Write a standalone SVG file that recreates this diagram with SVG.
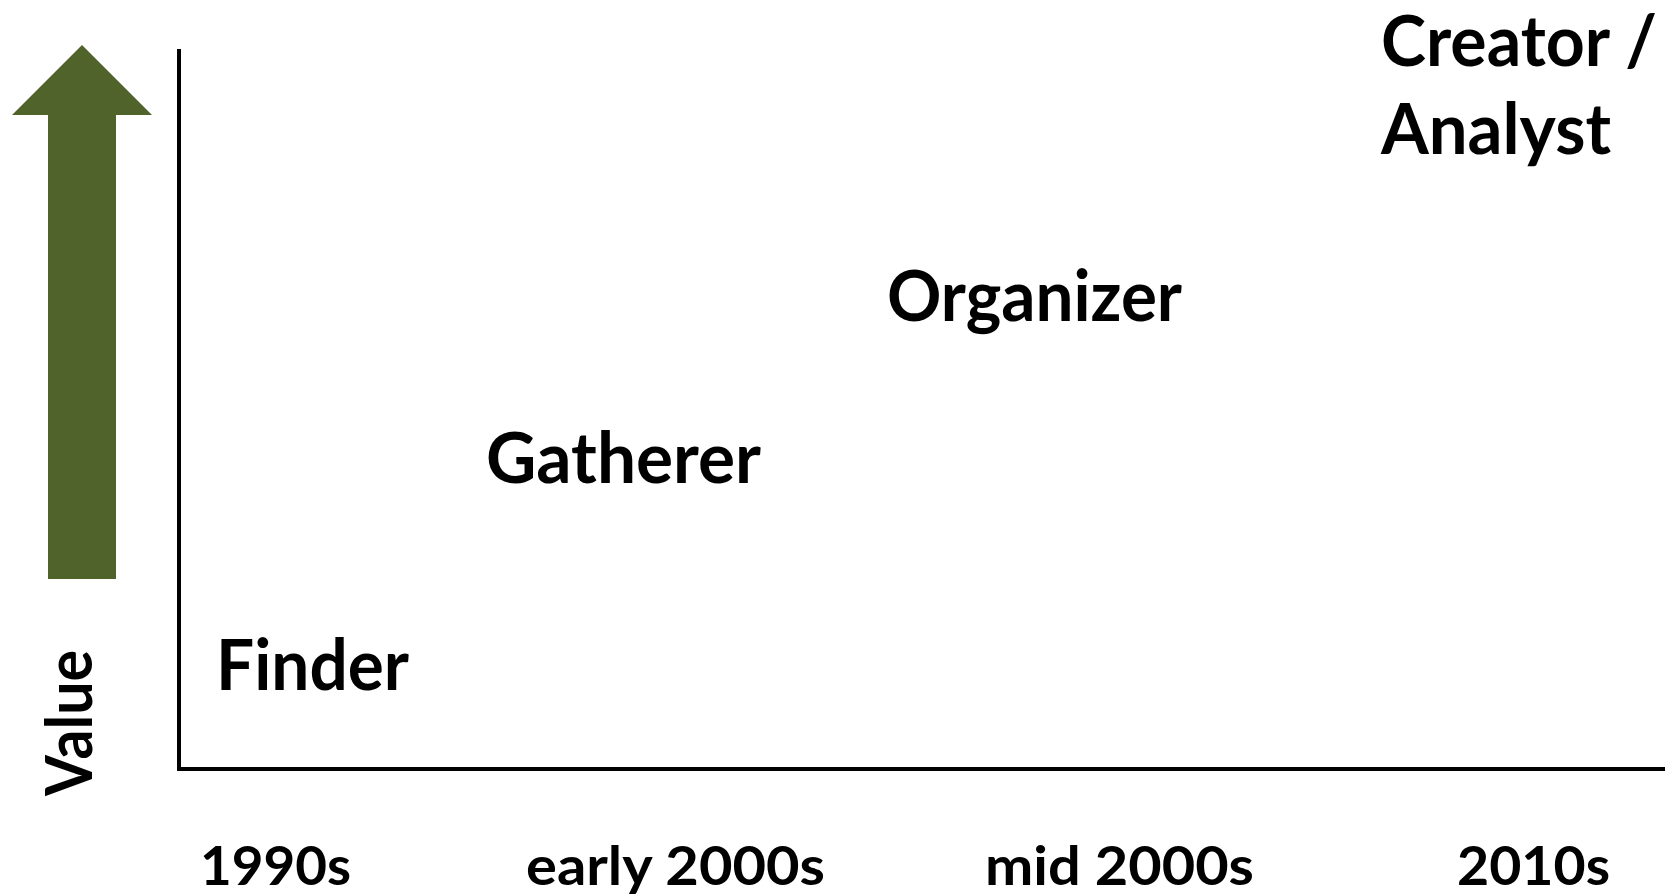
<svg xmlns="http://www.w3.org/2000/svg" width="1665" height="895" viewBox="0 0 1665 895">
<style>
.t{font-family:Lato,"Liberation Sans",sans-serif;font-weight:bold;fill:#000}
.big{font-size:70px}
.lab{font-size:54px}
.axis{stroke:#000;stroke-width:4;fill:none}
</style>
<rect width="1665" height="895" fill="#fff"/>
<g id="value-arrow">
<polygon points="82,45 152,115 116,115 116,579 48,579 48,115 12,115" fill="#50632b"/>
<text class="t" style="font-size:65px" transform="translate(92,796) rotate(-90)" textLength="146" lengthAdjust="spacingAndGlyphs">Value</text>
</g>
<g id="connectors">
<path class="axis" d="M179,49 V769 H1665"/>
</g>
<g id="finder"><text class="t big" x="216" y="690" textLength="193" lengthAdjust="spacingAndGlyphs">Finder</text></g>
<g id="gatherer"><text class="t big" x="486" y="483" textLength="275" lengthAdjust="spacingAndGlyphs">Gatherer</text></g>
<g id="organizer"><text class="t big" x="887" y="321" textLength="295" lengthAdjust="spacingAndGlyphs">Organizer</text></g>
<g id="creator"><text class="t big" x="1381" y="66" textLength="276" lengthAdjust="spacingAndGlyphs">Creator /</text>
<text class="t big" x="1381" y="154" textLength="230" lengthAdjust="spacingAndGlyphs">Analyst</text></g>
<g id="labels">
<text class="t lab" x="200" y="885" textLength="151" lengthAdjust="spacingAndGlyphs">1990s</text>
<text class="t lab" x="526" y="885" textLength="299" lengthAdjust="spacingAndGlyphs">early 2000s</text>
<text class="t lab" x="985" y="885" textLength="269" lengthAdjust="spacingAndGlyphs">mid 2000s</text>
<text class="t lab" x="1457" y="885" textLength="153" lengthAdjust="spacingAndGlyphs">2010s</text>
</g>
</svg>
